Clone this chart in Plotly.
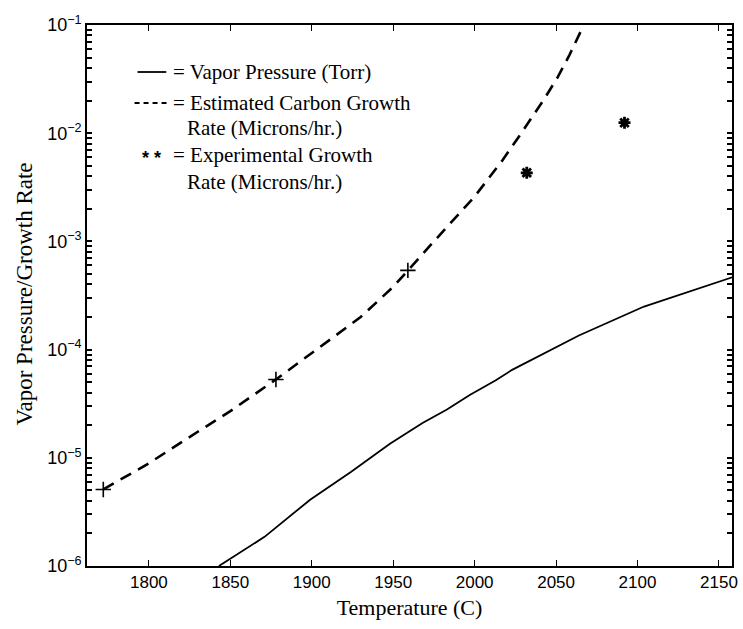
import plotly.graph_objects as go

# Vapor pressure (Torr) versus temperature (C)
temp_vapor = [1843, 1871, 1899, 1924, 1948, 1968, 1983, 1997, 2013, 2023, 2064, 2104, 2159]
vapor_pressure = [1.0e-6, 1.86e-6, 4.1e-6, 7.4e-6, 1.35e-5, 2.1e-5, 2.8e-5, 3.8e-5,
                  5.2e-5, 6.5e-5, 1.35e-4, 2.5e-4, 4.7e-4]

# Estimated carbon growth rate (microns/hr)
temp_est = [1772, 1800, 1830, 1850, 1878, 1900, 1930, 1950, 1959, 1975, 2000,
            2017, 2029, 2043, 2051, 2058, 2067]
est_rate = [5.1e-6, 8.9e-6, 1.74e-5, 2.7e-5, 5.3e-5, 9.3e-5, 2.0e-4, 3.8e-4, 5.4e-4,
            1.0e-3, 2.6e-3, 5.6e-3, 1.02e-2, 2.1e-2, 3.3e-2, 5.2e-2, 1.0e-1]

# Computed points marked along the estimate
temp_est_pts = [1772, 1878, 1959]
est_pts = [5.1e-6, 5.3e-5, 5.4e-4]

# Experimental growth rate (microns/hr)
temp_exp = [2032, 2092]
exp_rate = [4.3e-3, 1.25e-2]

x_ticks = [1800, 1850, 1900, 1950, 2000, 2050, 2100, 2150]
decades = [-6, -5, -4, -3, -2, -1]

# y ticks: labelled decades plus unlabelled 2..9 subdivisions
y_tickvals, y_ticktext = [], []
for e in decades:
    y_tickvals.append(10.0 ** e)
    y_ticktext.append(f"10<sup>\u2212{-e}</sup>")
    if e < -1:
        for m in range(2, 10):
            y_tickvals.append(m * 10.0 ** e)
            y_ticktext.append("")

W, H = 743, 629
L, R, T, B = 87, 5, 25, 63
PW, PH = W - L - R, H - T - B


def px(x):
    return (x - L) / PW


def py(y):
    return (H - B - y) / PH


fig = go.Figure()
fig.add_trace(go.Scatter(x=temp_vapor, y=vapor_pressure, mode="lines",
                         line=dict(color="black", width=1.8), showlegend=False))
fig.add_trace(go.Scatter(x=temp_est, y=est_rate, mode="lines",
                         line=dict(color="black", width=2.6, dash="12px,8px"),
                         showlegend=False))
fig.add_trace(go.Scatter(x=temp_est_pts, y=est_pts, mode="markers",
                         marker=dict(symbol="cross-thin-open", size=11, color="black",
                                     line=dict(color="black", width=1.6)),
                         showlegend=False))
fig.add_trace(go.Scatter(x=temp_exp, y=exp_rate, mode="markers",
                         marker=dict(symbol="asterisk-open", size=10, color="black",
                                     line=dict(color="black", width=2.8)),
                         showlegend=False))

serif = "Liberation Serif, Times New Roman, serif"
sans = "Liberation Sans, Arial, sans-serif"

# Legend key drawn inside the axes
shapes = [
    dict(type="line", xref="paper", yref="paper", x0=px(138), x1=px(167),
         y0=py(72), y1=py(72), line=dict(color="black", width=1.8)),
    dict(type="line", xref="paper", yref="paper", x0=px(135), x1=px(168),
         y0=py(103), y1=py(103), line=dict(color="black", width=1.8, dash="5px,4px")),
]
legend_lines = [
    ("= Vapor Pressure (Torr)", 172, 72),
    ("= Estimated Carbon Growth", 172, 103),
    ("Rate (Microns/hr.)", 186, 128),
    ("= Experimental Growth", 172, 155),
    ("Rate (Microns/hr.)", 186, 182),
]
annotations = [
    dict(text=t, x=px(xp), y=py(yp), xref="paper", yref="paper", xanchor="left",
         yanchor="middle", showarrow=False, font=dict(family=serif, size=21, color="black"))
    for t, xp, yp in legend_lines
]
annotations.append(dict(text="<b>* *</b>", x=px(152), y=py(158), xref="paper", yref="paper",
                        xanchor="center", yanchor="middle", showarrow=False,
                        font=dict(family=sans, size=18, color="black")))
# y-axis title
annotations.append(dict(text="Vapor Pressure/Growth Rate", x=px(23), y=py(294),
                        xref="paper", yref="paper", xanchor="center", yanchor="middle",
                        textangle=-90, showarrow=False,
                        font=dict(family=serif, size=23, color="black")))

fig.update_layout(
    width=W, height=H,
    margin=dict(l=L, r=R, t=T, b=B),
    paper_bgcolor="white", plot_bgcolor="white",
    shapes=shapes, annotations=annotations,
    xaxis=dict(range=[1762, 2158], tickvals=x_ticks, ticks="inside", ticklen=6,
               tickcolor="black", tickwidth=1.2,
               showline=True, linecolor="black", linewidth=1.6, mirror="allticks",
               showgrid=False, zeroline=False,
               tickfont=dict(family=sans, size=17, color="black"),
               title=dict(text="Temperature (C)", standoff=8,
                          font=dict(family=serif, size=22, color="black"))),
    yaxis=dict(type="log", range=[-6, -1], tickvals=y_tickvals, ticktext=y_ticktext,
               ticks="inside", ticklen=5, tickcolor="black", tickwidth=1.5,
               showline=True, linecolor="black", linewidth=1.6,
               mirror="allticks", showgrid=False, zeroline=False,
               tickfont=dict(family=sans, size=18, color="black")),
)

fig.write_html("out.html")
